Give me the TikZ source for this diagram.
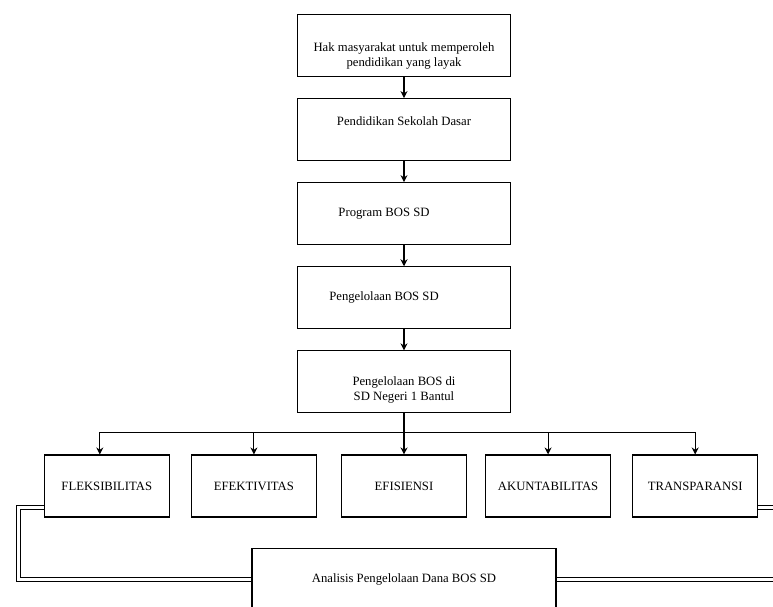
\documentclass[tikz,border=0pt]{standalone}
\usepackage{fontspec}
\setmainfont{Liberation Serif}
\usetikzlibrary{arrows.meta, positioning, calc}
\tikzset{
  bosbox/.style={rectangle, draw=black, line width=1.1pt, fill=white,
                 minimum width=213pt, minimum height=62pt, inner sep=0pt,
                 font=\fontsize{12.7}{15}\selectfont, align=center},
  aspekbox/.style={bosbox, minimum width=125pt},
  bostext/.style={font=\fontsize{12.7}{15}\selectfont, align=center, inner sep=0pt},
  bosflow/.style={-{Stealth[length=7pt, width=7pt]}, line width=1.1pt},
  bosline/.style={line width=1.1pt},
  boslink/.style={double, double distance=3pt, line width=0.9pt},
}

\begin{document}
\begin{tikzpicture}[x=1pt, y=-1pt, node distance=21pt and 20pt]
  \fill[white] (0,0) rectangle (773,606);
  \useasboundingbox (0,0) rectangle (773,606);
  \clip (0,0) rectangle (773,606);
  % alur utama
  \node[bosbox, label={[bostext, yshift=-10pt]center:{Hak masyarakat untuk memperoleh\\pendidikan yang layak}}](hak) at (404,45.5){};
  \node[bosbox, below=of hak, label={[bostext, yshift=8pt]center:Pendidikan Sekolah Dasar}](sd){};
  \node[bosbox, below=of sd, label={[bostext, xshift=-20pt]center:Program BOS SD}](program){};
  \node[bosbox, below=of program, label={[bostext, xshift=-20pt]center:Pengelolaan BOS SD}](kelola){};
  \node[bosbox, below=of kelola, label={[bostext, yshift=-8pt]center:{Pengelolaan BOS di\\SD Negeri 1 Bantul}}](bantul){};
  % aspek pengelolaan
  \node[aspekbox, below=41pt of bantul](efisiensi){EFISIENSI};
  \node[aspekbox, left=24pt of efisiensi](efektivitas){EFEKTIVITAS};
  \node[aspekbox, left=21pt of efektivitas](fleksibilitas){FLEKSIBILITAS};
  \node[aspekbox, right=18pt of efisiensi](akuntabilitas){AKUNTABILITAS};
  \node[aspekbox, right=21pt of akuntabilitas](transparansi){TRANSPARANSI};
  \node[bosbox, minimum width=304pt, below=30pt of efisiensi](analisis){Analisis Pengelolaan Dana BOS SD};
  \draw[bosflow](hak)--(sd);
  \draw[bosflow](sd)--(program);
  \draw[bosflow](program)--(kelola);
  \draw[bosflow](kelola)--(bantul);
  \draw[bosflow](bantul)--(efisiensi);
  % percabangan
  \coordinate(cabang) at ($(efisiensi.north)+(0,-22)$);
  \coordinate(fleksin) at ($(fleksibilitas.north)+(-7,0)$);
  \draw[bosline](cabang -| fleksin)--(cabang -| transparansi.north);
  \draw[bosflow](cabang -| fleksin)--(fleksin);
  \foreach \k in {efektivitas, akuntabilitas, transparansi}
    \draw[bosflow](cabang -| \k.north)--(\k.north);
  % garis ganda ke analisis
  \draw[boslink]($(fleksibilitas.south west)+(0,-10)$)-- ++(-25,0)|-(analisis.west);
  \draw[boslink]($(transparansi.south east)+(0,-10)$)-- ++(40,0)|-(analisis.east);
\end{tikzpicture}
\end{document}
